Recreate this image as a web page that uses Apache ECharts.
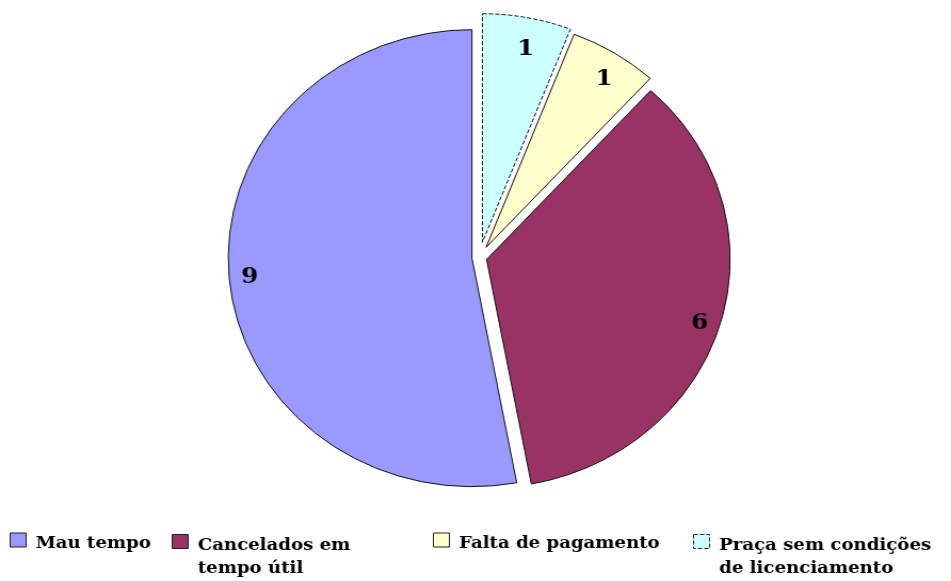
<!DOCTYPE html>
<html>
<head>
<meta charset="utf-8">
<script src="https://cdn.jsdelivr.net/npm/echarts@6/dist/echarts.min.js"></script>
<style>
html, body { margin: 0; padding: 0; background: #fff; overflow: hidden; }
/* the original pie is a little wider than tall */
#main { width: 892px; height: 581px; transform: scaleX(1.0662); transform-origin: 0 0; }
</style>
</head>
<body>
<div id="main"></div>
<script>
// slices, clockwise from 12 o'clock
var names = ['Praça sem condições de licenciamento', 'Falta de pagamento', 'Cancelados em tempo útil', 'Mau tempo'];
var values = [1, 1, 6, 9];
var colors = ['#CCFFFF', '#FFFFCC', '#993366', '#9999FF'];
var explode = [15.5, 12, 7, 7];

// legend
var legendOrder = ['Mau tempo', 'Cancelados em tempo útil', 'Falta de pagamento', 'Praça sem condições de licenciamento'];
var legendText = ['Mau tempo', 'Cancelados em\ntempo útil', 'Falta de pagamento', 'Praça sem condições\nde licenciamento'];
var legendLeft = [9, 161, 406, 650];

var font = 'DejaVu Serif';
var center = [449.6, 257.5];

function sliceSeries(k) {
    return {
        type: 'pie',
        center: center,
        radius: [0, 228.5],
        startAngle: 90,
        selectedMode: 'multiple',
        selectedOffset: explode[k],
        silent: true,
        animation: false,
        label: { show: false },
        labelLine: { show: false },
        emphasis: { disabled: true },
        data: names.map(function (n, i) {
            if (i === k) {
                return {
                    name: n, value: values[i], selected: true,
                    itemStyle: {
                        color: colors[i], borderColor: '#111', borderWidth: 1,
                        borderType: i === 0 ? 'dashed' : 'solid'
                    }
                };
            }
            return { name: n, value: values[i], itemStyle: { color: 'rgba(0,0,0,0)', borderWidth: 0 } };
        })
    };
}

var series = [];
for (var k = 0; k < names.length; k++) {
    series.push(sliceSeries(k));
}
// value labels near the rim
series.push({
    type: 'pie',
    center: center,
    radius: [200, 226],
    startAngle: 89,
    silent: true,
    animation: false,
    itemStyle: { color: 'rgba(0,0,0,0)', borderWidth: 0 },
    label: {
        show: true,
        position: 'inside',
        formatter: '{c}',
        offset: [0, 3],
        color: '#000',
        fontFamily: font,
        fontWeight: 'bold',
        fontSize: 23
    },
    labelLine: { show: false },
    emphasis: { disabled: true },
    data: names.map(function (n, i) { return { name: n, value: values[i] }; })
});

var legends = legendOrder.map(function (n, j) {
    var i = names.indexOf(n);
    var lines = legendText[j].split('\n');
    var two = lines.length > 1;
    return {
        left: legendLeft[j],
        top: two ? 506 : 527.5,
        padding: 0,
        orient: 'horizontal',
        itemWidth: 15,
        itemHeight: 14,
        selectedMode: false,
        formatter: function () {
            return lines.map(function (l) { return '{t|' + l + '}'; }).join('\n');
        },
        textStyle: {
            rich: {
                t: {
                    color: '#000',
                    fontFamily: font,
                    fontWeight: 'bold',
                    fontSize: 17,
                    lineHeight: 23,
                    padding: [two ? 31 : 8, 0, 0, 4]
                }
            }
        },
        data: [{
            name: n,
            icon: 'rect',
            itemStyle: {
                color: colors[i], borderColor: '#222', borderWidth: 1, opacity: 1,
                borderType: i === 0 ? 'dashed' : 'solid'
            }
        }]
    };
});

var myChart = echarts.init(document.getElementById('main'));
myChart.setOption({
    backgroundColor: '#fff',
    animation: false,
    legend: legends,
    series: series
});
</script>
</body>
</html>
